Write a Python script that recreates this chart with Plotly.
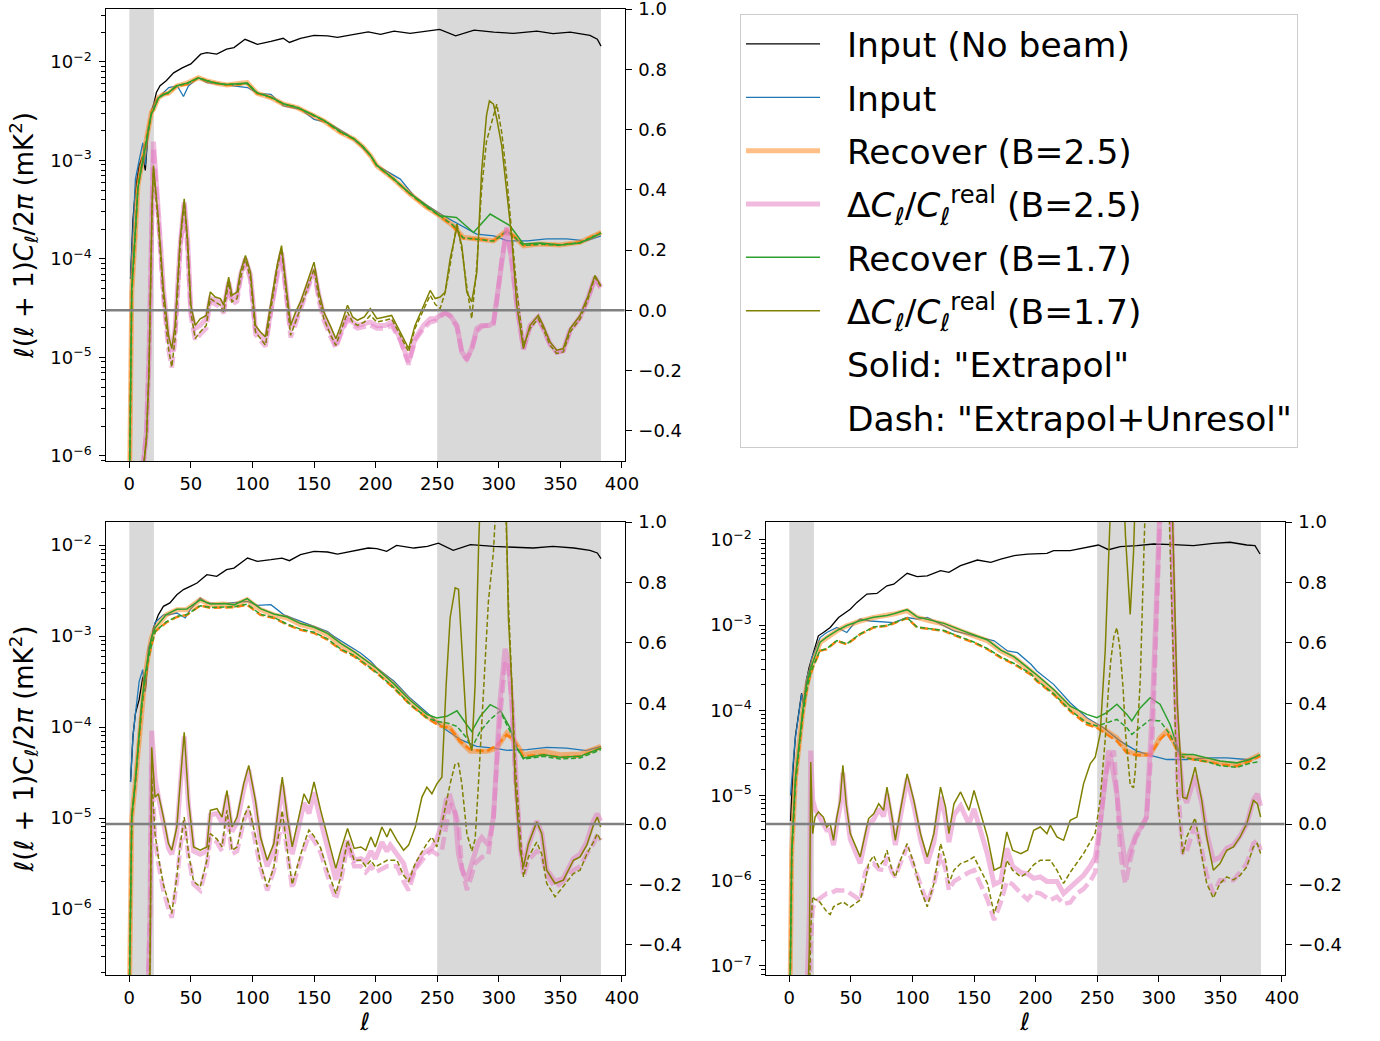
import plotly.graph_objects as go

W, H = 1380, 1041
FONT = "DejaVu Sans"

BLUE = "#1f77b4"
ORANGE = "#ff7f0e"
ORANGE_LIGHT = "rgba(255,127,14,0.5)"
PINK_LIGHT = "rgba(227,119,194,0.5)"
GREEN = "#2ca02c"
OLIVE = "#808000"

x_ticks = [0, 50, 100, 150, 200, 250, 300, 350, 400]
shade_low = [0, 20]
shade_high = [250, 383]

# ======================= Panel 1 (top-left) =======================
l1_black = [1, 3, 5, 8, 11, 13, 15, 18, 20, 22, 25, 30, 36, 43, 50, 58, 63, 71, 79, 85, 94, 104, 115, 125, 130,
            139, 150, 161, 169, 183, 194, 204, 215, 228, 242, 252, 265, 280, 296, 312, 331, 344, 358, 374, 380, 383]
v1_black = [6.31e-5, 2.51e-4, 5.01e-4, 8.91e-4, 1.12e-3, 7.94e-4, 1.78e-3, 3.16e-3, 3.80e-3, 4.90e-3,
            5.75e-3, 6.46e-3, 7.76e-3, 8.71e-3, 9.55e-3, 1.20e-2, 1.245e-2, 1.20e-2, 1.35e-2, 1.40e-2,
            1.70e-2, 1.51e-2, 1.62e-2, 1.74e-2, 1.58e-2, 1.74e-2, 1.86e-2, 1.84e-2, 1.78e-2, 1.91e-2,
            2.02e-2, 1.91e-2, 2.06e-2, 1.95e-2, 2.06e-2, 2.14e-2, 1.84e-2, 2.11e-2, 2.01e-2, 1.95e-2,
            2.06e-2, 1.94e-2, 2.01e-2, 1.86e-2, 1.70e-2, 1.45e-2]

l1_blue = [1, 2, 5, 8, 11, 13, 15.5, 18, 21, 25, 32, 39, 44, 48, 56, 63, 74, 85, 96, 104, 115, 125, 139, 150, 161,
           166, 177, 188, 196, 201, 220, 231, 242, 255, 269, 282, 296, 307, 323, 339, 355, 371, 383]
v1_blue = [6.31e-5, 1.07e-4, 6.46e-4, 1.00e-3, 1.51e-3, 8.91e-4, 2.24e-3, 3.09e-3, 3.98e-3, 4.52e-3,
           5.50e-3, 5.71e-3, 4.46e-3, 5.71e-3, 6.93e-3, 6.18e-3, 5.94e-3, 5.71e-3, 5.50e-3, 4.81e-3,
           4.70e-3, 3.58e-3, 3.31e-3, 2.62e-3, 2.43e-3, 2.24e-3, 1.85e-3, 1.41e-3, 1.10e-3, 8.91e-4,
           6.47e-4, 4.39e-4, 3.48e-4, 2.75e-4, 2.18e-4, 1.79e-4, 1.72e-4, 1.53e-4, 1.53e-4, 1.60e-4,
           1.60e-4, 1.53e-4, 1.72e-4]

l1_rec25 = [0, 2, 5, 7, 10, 13, 15.5, 18, 19.6, 23.6, 27.7, 31.8, 38.6, 46.7, 56.2, 63, 71, 79.3, 90.2, 95.7,
            103.8, 114.7, 125.5, 136.4, 147.3, 158, 171.7, 182.6, 190, 196, 201, 214.6, 228, 241.6, 252, 263,
            271, 282, 295.7, 306.5, 311.9, 320, 333.5, 349.7, 366, 383]
v1_rec25 = [3.16e-7, 4.57e-5, 1.86e-4, 5.50e-4, 8.91e-4, 1.41e-3, 2.09e-3, 3.09e-3, 3.31e-3, 4.35e-3,
            4.70e-3, 4.81e-3, 5.71e-3, 6.08e-3, 6.93e-3, 6.43e-3, 6.08e-3, 5.85e-3, 6.08e-3, 6.18e-3,
            4.81e-3, 4.36e-3, 3.72e-3, 3.44e-3, 2.95e-3, 2.52e-3, 1.92e-3, 1.64e-3, 1.36e-3, 1.11e-3,
            8.83e-4, 6.47e-4, 4.57e-4, 3.34e-4, 2.75e-4, 2.18e-4, 1.66e-4, 1.60e-4, 1.53e-4, 1.94e-4,
            1.72e-4, 1.36e-4, 1.42e-4, 1.39e-4, 1.48e-4, 1.86e-4]
v1_rec25d = [3.16e-7, 4.57e-5, 1.86e-4, 5.50e-4, 8.91e-4, 1.41e-3, 2.09e-3, 3.09e-3, 3.31e-3, 4.35e-3,
             4.70e-3, 4.81e-3, 5.71e-3, 5.95e-3, 6.93e-3, 6.43e-3, 6.08e-3, 5.85e-3, 5.95e-3, 6.05e-3,
             4.81e-3, 4.36e-3, 3.72e-3, 3.44e-3, 2.95e-3, 2.52e-3, 1.92e-3, 1.64e-3, 1.36e-3, 1.11e-3,
             8.83e-4, 6.47e-4, 4.57e-4, 3.34e-4, 2.75e-4, 2.14e-4, 1.62e-4, 1.60e-4, 1.53e-4, 1.90e-4,
             1.72e-4, 1.38e-4, 1.42e-4, 1.39e-4, 1.48e-4, 1.86e-4]
v1_rec17d = [3.16e-7, 4.7e-5, 1.9e-4, 5.4e-4, 8.8e-4, 1.40e-3, 2.07e-3, 3.05e-3, 3.28e-3, 4.3e-3,
             4.68e-3, 4.85e-3, 5.73e-3, 6.0e-3, 6.9e-3, 6.45e-3, 6.1e-3, 5.88e-3, 5.98e-3, 6.08e-3,
             4.85e-3, 4.4e-3, 3.75e-3, 3.46e-3, 2.97e-3, 2.54e-3, 1.94e-3, 1.65e-3, 1.37e-3, 1.12e-3,
             8.9e-4, 6.5e-4, 4.6e-4, 3.36e-4, 2.76e-4, 2.2e-4, 1.64e-4, 1.58e-4, 1.52e-4, 1.92e-4,
             1.70e-4, 1.37e-4, 1.41e-4, 1.38e-4, 1.47e-4, 1.84e-4]

l1_rec17 = [0, 2, 5, 7, 10, 13, 15.5, 18, 19.6, 23.6, 27.7, 31.8, 38.6, 46.7, 56.2, 63, 71, 79.3, 90.2, 95.7,
            103.8, 114.7, 125.5, 136.4, 147.3, 158, 171.7, 182.6, 190, 196, 201, 214.6, 228, 241.6, 252,
            265.6, 279.5, 293, 309, 320, 333.5, 349.7, 366, 383]
v1_rec17 = [3.16e-7, 5.0e-5, 2.0e-4, 5.2e-4, 8.5e-4, 1.38e-3, 2.05e-3, 3.0e-3, 3.25e-3, 4.3e-3,
            4.65e-3, 4.9e-3, 5.75e-3, 6.1e-3, 6.9e-3, 6.45e-3, 6.1e-3, 5.9e-3, 6.05e-3, 6.1e-3,
            4.85e-3, 4.4e-3, 3.75e-3, 3.45e-3, 2.98e-3, 2.55e-3, 1.95e-3, 1.66e-3, 1.37e-3, 1.12e-3,
            8.9e-4, 6.5e-4, 4.6e-4, 3.4e-4, 2.75e-4,
            2.64e-4, 1.86e-4, 2.86e-4, 2.18e-4, 1.42e-4, 1.45e-4, 1.39e-4, 1.45e-4, 1.82e-4]

l1_dc = [0, 10, 14, 16, 17, 18.5, 19.6, 23.6, 27.7, 31.8, 34.5, 37.2, 41.3, 44.6, 47.3, 50, 53.5, 57.6, 62.5,
         65.8, 69.8, 74, 76.6, 80.7, 83.4, 87.5, 90.2, 94.3, 98.4, 102.4, 106.5, 110.6, 114.7, 120, 123.6,
         126.9, 131, 135, 139, 144.6, 150, 154, 158, 163.6, 167.7, 171.7, 177.2, 181.3, 185.3, 190.8, 195.7,
         201, 207.8, 213, 220, 226.8, 232, 239, 244.3, 248.4, 252.4, 256.5, 260.5, 266, 270, 274, 278, 282.2,
         286, 290, 292.4, 295.7, 298.4, 302.4, 306.5, 310.6, 314.6, 320, 325.4, 332, 336, 341.6, 347, 352.4,
         357.9, 366, 372.7, 378, 382.7]
v1_d17 = [-1.0, -0.6, -0.42, -0.2, 0.05, 0.35, 0.48, 0.304, 0.072, -0.083,
          -0.127, -0.05, 0.237, 0.37, 0.237, 0.017, -0.05, -0.028, -0.017, 0.061,
          0.044, 0.039, 0.017, 0.11, 0.05, 0.061, 0.127, 0.182, 0.127, -0.05,
          -0.072, -0.088, 0.017, 0.149, 0.215, 0.094, -0.05, -0.006, 0.028, 0.094,
          0.16, 0.061, -0.006, -0.055, -0.094, -0.05, 0.017, -0.022, -0.033, -0.022,
          0.006, -0.028, -0.022, -0.017, -0.072, -0.127, -0.05, 0.017, 0.066, 0.039,
          0.044, 0.061, 0.171, 0.276, 0.215, 0.061, 0.028, 0.127, 0.458, 0.646,
          0.695, 0.684, 0.635, 0.546, 0.392, 0.237, 0.017, -0.127, -0.05, -0.017,
          -0.05, -0.105, -0.132, -0.127, -0.061, -0.017, 0.05, 0.116, 0.083]
v1_d17d = [-1.0, -0.6, -0.42, -0.2, 0.05, 0.33, 0.47, 0.282, 0.039, -0.127,
           -0.188, -0.094, 0.215, 0.359, 0.215, -0.006, -0.094, -0.072, -0.05, 0.039,
           0.028, 0.017, -0.006, 0.094, 0.028, 0.039, 0.105, 0.171, 0.105, -0.072,
           -0.094, -0.116, -0.006, 0.138, 0.204, 0.072, -0.083, -0.039, 0.006, 0.072,
           0.138, 0.039, -0.028, -0.083, -0.116, -0.072, -0.006, -0.039, -0.05, -0.039,
           -0.017, -0.039, -0.033, -0.028, -0.083, -0.138, -0.06, 0.006, 0.05, 0.02,
           0.006, 0.06, 0.15, 0.29, 0.2, 0.08, -0.028, 0.15, 0.4, 0.56,
           0.6, 0.646, 0.684, 0.59, 0.44, 0.25, 0.07, -0.116, -0.06, -0.028,
           -0.06, -0.116, -0.143, -0.138, -0.072, -0.028, 0.04, 0.11, 0.08]
v1_d25 = [-1.0, -0.55, -0.4, -0.15, 0.1, 0.45, 0.56, 0.326, 0.072, -0.094,
          -0.138, -0.06, 0.215, 0.359, 0.237, -0.006, -0.06, -0.05, -0.028, 0.039,
          0.033, 0.028, 0.006, 0.094, 0.039, 0.05, 0.116, 0.171, 0.116, -0.06,
          -0.083, -0.105, -0.006, 0.127, 0.193, 0.083, -0.06, -0.028, 0.017, 0.072,
          0.138, 0.05, -0.017, -0.072, -0.116, -0.072, -0.017, -0.039, -0.05, -0.044,
          -0.039, -0.05, -0.05, -0.039, -0.094, -0.171, -0.094, -0.05, -0.028, -0.028,
          -0.017, -0.006, -0.017, -0.05, -0.138, -0.16, -0.127, -0.06, -0.05, -0.05,
          -0.05, -0.04, 0.039, 0.18, 0.276, 0.16, 0.02, -0.127, -0.05, -0.022,
          -0.055, -0.11, -0.138, -0.132, -0.066, -0.022, 0.044, 0.11, 0.078]
v1_d25d = [-1.0, -0.55, -0.4, -0.15, 0.1, 0.42, 0.54, 0.3, 0.04, -0.13,
           -0.19, -0.1, 0.2, 0.35, 0.2, -0.02, -0.1, -0.08, -0.06, 0.03,
           0.02, 0.01, -0.01, 0.085, 0.02, 0.03, 0.1, 0.16, 0.1, -0.08,
           -0.1, -0.12, -0.015, 0.13, 0.19, 0.065, -0.09, -0.045, 0.0, 0.065,
           0.13, 0.03, -0.035, -0.09, -0.125, -0.08, -0.03, -0.05, -0.06, -0.055,
           -0.05, -0.06, -0.06, -0.05, -0.1, -0.18, -0.1, -0.06, -0.04, -0.035,
           -0.02, -0.01, -0.02, -0.055, -0.14, -0.165, -0.13, -0.07, -0.055, -0.05,
           -0.05, -0.045, 0.03, 0.17, 0.27, 0.16, 0.02, -0.13, -0.055, -0.03,
           -0.06, -0.115, -0.14, -0.135, -0.07, -0.025, 0.04, 0.105, 0.075]

# ======================= Panel 2 (bottom-left) =======================
l2_black = [1, 3, 5, 8, 11, 13, 15.5, 18, 19.6, 23.6, 27.7, 33, 38.6, 44, 49.5, 55, 63, 71, 79, 85, 96, 104,
            115, 124, 130, 139, 150, 161, 169, 183, 194, 201, 209, 217, 231, 242, 251, 263, 277, 296, 312, 328,
            344, 361, 374, 380, 383]
v2_black = [2.51e-5, 7.94e-5, 1.41e-4, 2.00e-4, 3.55e-4, 2.51e-4, 6.31e-4, 8.91e-4, 1.22e-3, 1.71e-3,
            2.12e-3, 2.31e-3, 2.84e-3, 3.24e-3, 3.52e-3, 3.82e-3, 4.72e-3, 4.53e-3, 5.36e-3, 5.58e-3,
            7.19e-3, 6.62e-3, 6.90e-3, 7.19e-3, 6.73e-3, 7.83e-3, 8.51e-3, 8.38e-3, 7.96e-3, 8.67e-3,
            9.27e-3, 9.12e-3, 8.51e-3, 9.91e-3, 9.27e-3, 9.66e-3, 1.05e-2, 8.73e-3, 1.01e-2, 9.66e-3,
            9.42e-3, 9.27e-3, 9.66e-3, 9.27e-3, 8.73e-3, 8.17e-3, 7.08e-3]

l2_blue = [1, 3, 4.6, 8, 10.9, 12.8, 15.5, 18.2, 21, 27.7, 31.8, 38.6, 45.4, 49.5, 57.6, 63, 74, 85, 96, 104,
           115, 125.5, 139, 150, 161, 166, 177, 188, 196, 201, 215, 228, 242, 255, 269, 282, 296, 307, 323, 339,
           355, 371, 383]
v2_blue = [2.51e-5, 7.94e-5, 1.26e-4, 3.16e-4, 4.27e-4, 2.45e-4, 7.41e-4, 9.55e-4, 1.41e-3, 1.71e-3,
           1.71e-3, 1.79e-3, 1.58e-3, 1.95e-3, 2.62e-3, 2.31e-3, 2.25e-3, 2.31e-3, 2.40e-3, 2.17e-3,
           2.21e-3, 1.71e-3, 1.45e-3, 1.28e-3, 1.12e-3, 9.91e-4, 8.04e-4, 6.46e-4, 5.27e-4, 4.45e-4,
           3.18e-4, 2.08e-4, 1.43e-4, 9.75e-5, 7.26e-5, 6.14e-5, 5.87e-5, 5.55e-5, 5.64e-5, 5.98e-5,
           5.87e-5, 5.50e-5, 6.14e-5]

l2_rec25 = [0, 2, 5, 7, 10, 13, 15.5, 18, 21, 30, 38.6, 46.7, 57.6, 65.8, 76.6, 85, 95.7, 106.5, 117.4, 128.3,
            139, 150, 160.9, 171.7, 182.6, 196, 201, 214.6, 228, 241.6, 252.4, 260.5, 268.6, 276.8, 290.3, 298.4,
            306.5, 311.9, 320, 336.3, 349.8, 366, 383]
v2_rec25 = [1e-7, 1.00e-5, 2.51e-5, 5.37e-5, 1.78e-4, 3.80e-4, 6.31e-4, 9.55e-4, 1.22e-3, 1.71e-3,
            1.95e-3, 1.95e-3, 2.51e-3, 2.21e-3, 2.25e-3, 2.17e-3, 2.51e-3, 1.95e-3, 1.71e-3, 1.58e-3,
            1.33e-3, 1.22e-3, 1.04e-3, 8.04e-4, 6.50e-4, 4.84e-4, 4.27e-4, 2.92e-4, 1.91e-4, 1.31e-4,
            1.08e-4, 9.75e-5, 6.95e-5, 5.41e-5, 5.41e-5, 5.87e-5, 8.59e-5, 7.26e-5, 4.97e-5, 5.41e-5,
            4.97e-5, 5.05e-5, 6.14e-5]
v2_rec25d = [1e-7, 1.0e-5, 2.51e-5, 5.01e-5, 1.58e-4, 3.55e-4, 5.62e-4, 7.94e-4, 1.12e-3, 1.41e-3,
             1.62e-3, 1.70e-3, 2.17e-3, 2.04e-3, 2.04e-3, 2.07e-3, 2.21e-3, 1.71e-3, 1.58e-3, 1.33e-3,
             1.17e-3, 1.08e-3, 9.12e-4, 7.08e-4, 5.98e-4, 4.45e-4, 3.92e-4, 2.69e-4, 1.76e-4, 1.26e-4,
             1.02e-4, 9.75e-5, 6.95e-5, 5.64e-5, 5.41e-5, 6.31e-5, 8.24e-5, 7.26e-5, 4.76e-5, 4.97e-5,
             4.65e-5, 4.76e-5, 5.89e-5]

l2_rec17 = [0, 2, 5, 7, 10, 13, 15.5, 18, 21, 30, 38.6, 46.7, 57.6, 65.8, 76.6, 85, 95.7, 106.5, 117.4, 128.3,
            139, 150, 160.9, 171.7, 182.6, 196, 201, 214.6, 228, 241.6,
            249.7, 257.8, 266, 274, 278, 284.9, 293, 301, 309.2, 314.6, 320, 336.3, 349.8, 366, 383]
v2_rec17 = [1e-7, 1.05e-5, 2.6e-5, 5.5e-5, 1.8e-4, 3.9e-4, 6.4e-4, 9.6e-4, 1.23e-3, 1.72e-3,
            1.97e-3, 1.98e-3, 2.5e-3, 2.25e-3, 2.28e-3, 2.2e-3, 2.58e-3, 2.0e-3, 1.75e-3, 1.62e-3,
            1.37e-3, 1.25e-3, 1.07e-3, 8.3e-4, 6.7e-4, 5.0e-4, 4.4e-4, 3.0e-4, 1.97e-4, 1.38e-4,
            1.26e-4, 1.31e-4, 1.51e-4, 1.06e-4, 8.95e-5, 1.31e-4, 1.76e-4, 1.55e-4, 9.75e-5, 5.89e-5,
            4.56e-5, 4.97e-5, 4.65e-5, 4.76e-5, 5.89e-5]
v2_rec17d = [1e-7, 1.0e-5, 2.51e-5, 5.01e-5, 1.58e-4, 3.55e-4, 5.62e-4, 7.94e-4, 1.12e-3, 1.43e-3,
             1.64e-3, 1.72e-3, 2.15e-3, 2.06e-3, 2.06e-3, 2.09e-3, 2.24e-3, 1.73e-3, 1.60e-3, 1.35e-3,
             1.19e-3, 1.10e-3, 9.3e-4, 7.2e-4, 6.1e-4, 4.5e-4, 3.95e-4, 2.72e-4, 1.78e-4, 1.27e-4,
             1.15e-4, 1.11e-4, 1.02e-4, 7.57e-5, 5.87e-5, 8.95e-5, 1.21e-4, 1.49e-4, 8.95e-5, 5.89e-5,
             4.45e-5, 4.76e-5, 4.45e-5, 4.57e-5, 5.64e-5]

l2_dc = [0, 10, 15, 16.8, 18.2, 20.9, 23.6, 27.7, 31.8, 34.5, 38.6, 41.3, 44.6, 48.1, 52.2, 57.6, 63, 65.8, 71.2,
         75.3, 79.3, 83.4, 87.5, 92.9, 97, 102.4, 106.5, 112, 117.4, 124.2, 128.3, 132.3, 137.8, 141.8, 145.9, 150,
         155.4, 160.9, 167.7, 171.7, 177.2, 182.6, 188, 192, 196.2, 199.7, 205.1, 209.2, 211.9, 217.3, 222.7,
         226.8, 232.2, 237.6, 241.6, 245.7, 249.7, 253.8, 257.3, 260.5, 264.6, 267.3, 270, 274.1, 278.1, 280.8,
         283.5, 286.2, 291.6, 295.7, 298.4, 301, 305.1, 307.8, 310.6, 313.3, 317.3, 320, 324.1, 330.8, 334.9,
         338.9, 345.7, 352.4, 360.6, 366, 371.4, 376.8, 380, 382.7]
v2_d17 = [-1.5, -1.0, -0.7, -0.49, 0.254, 0.089, 0.1, 0.023, -0.065, -0.087,
          -0.01, 0.133, 0.304, 0.078, -0.076, -0.087, -0.076, 0.045, 0.051, 0.023,
          0.111, -0.01, 0.023, 0.133, 0.194, 0.078, -0.043, -0.12, -0.065, 0.155,
          0.023, -0.076, 0.023, 0.1, 0.067, 0.139, 0.045, -0.043, -0.147, -0.087,
          -0.015, -0.081, -0.076, -0.087, -0.043, -0.076, -0.01, -0.043, -0.015, -0.054,
          -0.087, -0.07, -0.01, 0.089, 0.122, 0.1, 0.133, 0.155, 0.463, 0.683,
          0.782, 0.777, 0.573, 0.298, 0.243, 0.463, 0.903, 1.23, 1.5, 1.6,
          1.6, 1.5, 1.23, 0.683, 0.463, 0.133, -0.087, -0.142, -0.065, 0.007,
          -0.032, -0.153, -0.197, -0.186, -0.12, -0.109, -0.07, -0.004, 0.023, -0.01]
v2_d17d = [-1.5, -1.0, -0.7, -0.45, 0.155, -0.032, -0.11, -0.2, -0.26, -0.296,
           -0.175, -0.07, 0.023, -0.098, -0.19, -0.208, -0.12, -0.032, -0.05, -0.076,
           0.045, -0.087, -0.076, 0.023, 0.06, -0.04, -0.131, -0.208, -0.142, 0.045,
           -0.087, -0.2, -0.12, -0.065, -0.02, -0.04, -0.08, -0.153, -0.23, -0.175,
           -0.054, -0.12, -0.12, -0.14, -0.12, -0.142, -0.13, -0.12, -0.12, -0.12,
           -0.17, -0.19, -0.13, -0.09, -0.065, -0.043, -0.076, 0.0, 0.07, 0.133,
           0.2, 0.2, 0.133, -0.032, -0.09, -0.05, 0.133, 0.35, 0.738, 0.903,
           1.12, 1.2, 1.12, 0.738, 0.45, 0.2, -0.03, -0.175, -0.109, -0.06,
           -0.1, -0.197, -0.241, -0.208, -0.164, -0.153, -0.1, -0.06, -0.032, -0.054]
v2_d25 = [-1.5, -1.0, -0.6, -0.3, 0.309, 0.15, 0.09, 0.01, -0.08, -0.1,
          -0.03, 0.12, 0.29, 0.06, -0.09, -0.1, -0.09, 0.03, 0.035, 0.005,
          0.095, -0.025, 0.005, 0.115, 0.18, 0.06, -0.06, -0.14, -0.085, 0.13,
          0.0, -0.1, -0.005, 0.07, 0.035, 0.105, 0.01, -0.08, -0.185, -0.125,
          -0.055, -0.12, -0.115, -0.125, -0.09, -0.115, -0.06, -0.09, -0.07, -0.1,
          -0.13, -0.19, -0.14, -0.1, -0.09, -0.08, -0.05, 0.0, 0.08, 0.09,
          0.03, -0.1, -0.15, -0.186, -0.13, -0.087, -0.06, -0.045, -0.07, 0.023,
          0.2, 0.408, 0.58, 0.54, 0.4, 0.2, -0.08, -0.142, -0.07, 0.01,
          -0.03, -0.15, -0.19, -0.18, -0.115, -0.1, -0.06, 0.01, 0.034, 0.01]
v2_d25d = [-1.5, -1.0, -0.6, -0.3, 0.2, -0.05, -0.13, -0.22, -0.28, -0.31,
           -0.19, -0.08, 0.01, -0.11, -0.2, -0.22, -0.135, -0.045, -0.06, -0.09,
           0.03, -0.1, -0.09, 0.01, 0.05, -0.055, -0.145, -0.22, -0.155, 0.03,
           -0.1, -0.215, -0.135, -0.08, -0.035, -0.055, -0.095, -0.17, -0.25, -0.19,
           -0.07, -0.14, -0.14, -0.16, -0.14, -0.16, -0.15, -0.14, -0.14, -0.14,
           -0.19, -0.22, -0.15, -0.12, -0.1, -0.09, -0.1, -0.087, 0.0, 0.067,
           0.04, 0.0, -0.142, -0.219, -0.17, -0.13, -0.12, -0.11, -0.1, 0.023,
           0.2, 0.35, 0.53, 0.54, 0.408, 0.15, -0.05, -0.175, -0.12, -0.09,
           -0.1, -0.17, -0.21, -0.19, -0.153, -0.14, -0.1, -0.065, -0.035, -0.054]

# ======================= Panel 3 (bottom-right) =======================
l3_black = [1, 3, 5, 8, 10, 12, 14, 16, 18, 19.6, 23.6, 27.7, 33.2, 40, 44, 49.5, 54.9, 63, 71.2, 79.3, 84.8,
            95.7, 103.8, 112, 122.8, 129.6, 139, 152.7, 163.6, 171.7, 182.6, 193.5, 209.2, 214.6, 228.1, 241.6,
            251, 259.2, 268.7, 282.2, 295.7, 311.9, 328.1, 344.3, 357.9, 371.4, 378.1, 382.2]
v3_black = [5.01e-6, 2.00e-5, 5.01e-5, 1.00e-4, 1.58e-4, 1.12e-4, 2.24e-4, 3.16e-4, 3.98e-4, 4.99e-4,
            7.50e-4, 8.20e-4, 9.40e-4, 1.23e-3, 1.35e-3, 1.54e-3, 1.85e-3, 2.32e-3, 2.36e-3, 2.90e-3,
            3.03e-3, 4.06e-3, 3.71e-3, 3.80e-3, 4.36e-3, 4.17e-3, 4.99e-3, 5.82e-3, 5.46e-3, 5.97e-3,
            6.55e-3, 6.84e-3, 6.97e-3, 7.50e-3, 7.50e-3, 8.20e-3, 8.73e-3, 7.69e-3, 8.36e-3, 8.57e-3,
            8.97e-3, 8.81e-3, 8.57e-3, 9.14e-3, 9.40e-3, 8.73e-3, 8.57e-3, 6.84e-3]

l3_blue = [1, 4.6, 10, 11.4, 14.1, 16.8, 18.2, 19.6, 25, 30.4, 38.6, 46.7, 52.2, 57.6, 65.8, 76.6, 84.8, 95.7,
           103.8, 112, 122.8, 133.7, 144.6, 155.4, 166.3, 177.2, 185.3, 196.2, 201, 214.6, 228.1, 241.6, 255.1,
           268.7, 282.2, 295.7, 306.5, 322.7, 338.9, 355.2, 371.4, 382.2]
v3_blue = [1.00e-5, 4.37e-5, 1.55e-4, 1.17e-4, 2.42e-4, 3.16e-4, 4.17e-4, 4.56e-4, 7.16e-4, 8.20e-4,
           9.40e-4, 8.20e-4, 1.03e-3, 1.18e-3, 1.12e-3, 1.10e-3, 1.07e-3, 1.23e-3, 1.18e-3, 1.23e-3,
           1.03e-3, 8.57e-4, 7.83e-4, 7.16e-4, 6.55e-4, 4.99e-4, 4.76e-4, 3.48e-4, 2.90e-4, 2.02e-4,
           1.23e-4, 8.20e-5, 6.25e-5, 4.36e-5, 3.33e-5, 2.90e-5, 2.65e-5, 2.65e-5, 2.77e-5, 2.77e-5,
           2.65e-5, 2.90e-5]

l3_rec25 = [0, 2, 5, 8, 11, 14, 17, 19.6, 25, 30.4, 38.6, 46.7, 57.6, 68.5, 79.3, 84.8, 95.7, 103.8, 114.7,
            125.5, 139, 149.7, 160.9, 171.7, 182.6, 196.2, 201, 214.6, 228.1, 241.6, 249.7, 257.8, 266, 274.1,
            282.2, 293, 301, 306.5, 311.9, 317.3, 328.1, 338.9, 349.8, 363.3, 374.1, 382.2]
v3_rec25 = [1e-8, 2.24e-6, 1.58e-5, 4.17e-5, 1.00e-4, 1.91e-4, 2.95e-4, 3.80e-4, 6.25e-4, 7.16e-4,
            8.57e-4, 9.82e-4, 1.12e-3, 1.23e-3, 1.29e-3, 1.35e-3, 1.48e-3, 1.23e-3, 1.12e-3, 1.03e-3,
            8.57e-4, 7.50e-4, 6.55e-4, 4.99e-4, 4.17e-4, 2.88e-4, 2.51e-4, 1.69e-4, 1.07e-4, 7.50e-5,
            6.55e-5, 5.71e-5, 4.76e-5, 3.33e-5, 3.03e-5, 3.03e-5, 4.76e-5, 5.71e-5, 4.36e-5, 3.03e-5,
            2.77e-5, 2.65e-5, 2.42e-5, 2.32e-5, 2.65e-5, 3.03e-5]
v3_rec25d = [1e-8, 2.0e-6, 1.41e-5, 3.80e-5, 8.91e-5, 1.70e-4, 2.63e-4, 3.33e-4, 4.99e-4, 5.22e-4,
             6.55e-4, 5.97e-4, 7.83e-4, 9.40e-4, 9.82e-4, 1.05e-3, 1.21e-3, 9.40e-4, 8.97e-4, 8.57e-4,
             7.16e-4, 6.25e-4, 5.22e-4, 4.17e-4, 3.48e-4, 2.63e-4, 2.21e-4, 1.54e-4, 9.82e-5, 6.84e-5,
             6.25e-5, 5.22e-5, 4.36e-5, 3.18e-5, 2.99e-5, 2.99e-5, 4.56e-5, 5.46e-5, 4.17e-5, 2.90e-5,
             2.65e-5, 2.51e-5, 2.32e-5, 2.21e-5, 2.54e-5, 2.90e-5]

l3_rec17 = [0, 2, 5, 8, 11, 14, 17, 19.6, 25, 30.4, 38.6, 46.7, 57.6, 68.5, 79.3, 84.8, 95.7, 103.8, 114.7,
            125.5, 139, 149.7, 160.9, 171.7, 182.6, 196.2, 201, 214.6, 228.1,
            241.6, 249.7, 257.8, 266, 274.1, 278.1, 284.9, 293, 301, 309.2, 317.3, 328.1, 338.9, 349.8, 363.3,
            374.1, 382.2]
v3_rec17 = [1e-8, 2.3e-6, 1.62e-5, 4.3e-5, 1.02e-4, 1.95e-4, 3.0e-4, 3.85e-4, 6.3e-4, 7.25e-4,
            8.65e-4, 9.9e-4, 1.13e-3, 1.24e-3, 1.30e-3, 1.36e-3, 1.52e-3, 1.25e-3, 1.14e-3, 1.05e-3,
            8.8e-4, 7.7e-4, 6.7e-4, 5.1e-4, 4.25e-4, 2.95e-4, 2.6e-4, 1.76e-4, 1.12e-4,
            8.97e-5, 8.20e-5, 9.40e-5, 1.18e-4, 8.97e-5, 7.50e-5, 1.07e-4, 1.41e-4, 1.18e-4, 6.84e-5,
            3.03e-5, 3.03e-5, 2.77e-5, 2.54e-5, 2.42e-5, 2.65e-5, 3.03e-5]
v3_rec17d = [1e-8, 2.0e-6, 1.41e-5, 3.80e-5, 8.91e-5, 1.70e-4, 2.63e-4, 3.33e-4, 5.05e-4, 5.3e-4,
             6.6e-4, 6.05e-4, 7.9e-4, 9.5e-4, 9.9e-4, 1.06e-3, 1.22e-3, 9.5e-4, 9.05e-4, 8.65e-4,
             7.25e-4, 6.35e-4, 5.3e-4, 4.25e-4, 3.55e-4, 2.68e-4, 2.25e-4, 1.57e-4, 1.0e-4,
             7.16e-5, 6.55e-5, 7.16e-5, 7.83e-5, 6.25e-5, 5.22e-5, 6.31e-5, 7.76e-5, 7.50e-5, 5.22e-5,
             2.90e-5, 2.65e-5, 2.51e-5, 2.24e-5, 2.14e-5, 2.40e-5, 2.51e-5]

l3_dc = [0, 10, 14, 16.3, 17.4, 19, 20.9, 23.6, 27.7, 30.4, 33.2, 35.9, 38.6, 41.3, 43.5, 46.2, 49.5, 57.6, 61.7,
         64.4, 68.5, 72.6, 76.6, 79.3, 83.4, 86.1, 90.2, 95.7, 101.1, 106.5, 112, 117.4, 122.8, 126.9, 129.6,
         133.7, 139.1, 145.9, 150, 155.4, 160.9, 166.3, 171.7, 176.6, 181.3, 188, 193.5, 198.4, 203.8, 209.2,
         211.9, 217.3, 222.7, 228.1, 233.5, 238.9, 244.3, 248.4, 252.4, 256.5, 259.2, 261, 263.5, 266, 268.5,
         271, 273, 276.8, 279.5, 281, 285, 290, 295, 300, 303, 306, 308, 310, 311.9, 315, 319.5, 322.7, 329.5,
         334.9, 338.9, 344.3, 349.7, 355.2, 360.6, 366, 371.4, 376.8, 380, 382.7]
v3_d17 = [-1.5, -1.0, -0.7, -0.417, 0.205, -0.032, 0.023, 0.04, 0.023, -0.01,
          0.001, -0.054, 0.023, 0.078, 0.194, 0.067, -0.032, -0.109, -0.032, 0.018,
          0.034, 0.067, 0.045, 0.122, 0.023, -0.054, 0.045, 0.166, 0.078, -0.032,
          -0.109, -0.032, 0.122, 0.056, -0.032, 0.067, 0.106, 0.045, 0.111, 0.034,
          -0.043, -0.153, -0.142, -0.026, -0.087, -0.098, -0.087, -0.021, -0.01, -0.032,
          -0.004, -0.043, -0.054, 0.012, 0.023, 0.133, 0.199, 0.221, 0.298, 0.573,
          0.903, 1.2, 1.35, 1.4, 1.3, 1.15, 0.95, 0.694, 0.9, 1.1,
          1.4, 1.6, 1.7, 1.8, 1.8, 1.7, 1.5, 1.2, 0.9, 0.4,
          0.089, 0.084, 0.188, 0.078, -0.043, -0.153, -0.131, -0.087, -0.076, -0.043,
          0.001, 0.078, 0.067, 0.023]
v3_d17d = [-1.5, -1.0, -0.8, -0.6, -0.35, -0.24, -0.25, -0.252, -0.275, -0.29,
           -0.3, -0.274, -0.268, -0.263, -0.258, -0.265, -0.275, -0.252, -0.19, -0.13,
           -0.105, -0.142, -0.12, -0.087, -0.153, -0.175, -0.12, -0.065, -0.13, -0.215,
           -0.274, -0.197, -0.065, -0.12, -0.197, -0.153, -0.131, -0.12, -0.109, -0.153,
           -0.197, -0.296, -0.23, -0.12, -0.153, -0.175, -0.16, -0.135, -0.12, -0.12,
           -0.12, -0.153, -0.197, -0.16, -0.13, -0.098, -0.06, -0.03, 0.08, 0.28,
           0.45, 0.54, 0.62, 0.65, 0.58, 0.45, 0.3, 0.13, 0.12, 0.18,
           0.48, 1.2, 1.5, 1.6, 1.5, 1.3, 1.1, 0.8, 0.55, 0.1,
           -0.1, -0.043, 0.02, -0.11, -0.197, -0.245, -0.197, -0.175, -0.185, -0.17,
           -0.142, -0.076, -0.065, -0.098]
v3_d25 = [-1.5, -1.0, -0.6, -0.3, 0.243, 0.08, 0.05, 0.03, 0.0, -0.02,
          -0.02, -0.07, 0.0, 0.06, 0.17, 0.05, -0.05, -0.13, -0.05, 0.0,
          0.015, 0.05, 0.025, 0.1, 0.005, -0.07, 0.025, 0.15, 0.06, -0.05,
          -0.13, -0.06, 0.09, 0.02, -0.06, 0.03, 0.06, 0.0, 0.05, -0.02,
          -0.1, -0.2, -0.19, -0.08, -0.14, -0.16, -0.165, -0.18, -0.175, -0.19,
          -0.19, -0.19, -0.23, -0.21, -0.19, -0.17, -0.14, -0.11, 0.0, 0.15,
          0.243, 0.22, 0.16, 0.1, 0.0, -0.1, -0.142, -0.09, -0.06, -0.04,
          -0.015, 0.023, 0.4, 0.9, 1.3, 1.6, 1.5, 1.1, 0.683, 0.3,
          0.1, 0.07, 0.16, 0.07, -0.03, -0.12, -0.11, -0.08, -0.07, -0.04,
          0.0, 0.08, 0.1, 0.06]
v3_d25d = [-1.5, -1.0, -0.8, -0.6, -0.4, -0.28, -0.26, -0.25, -0.24, -0.23,
           -0.23, -0.225, -0.219, -0.22, -0.22, -0.22, -0.23, -0.252, -0.16, -0.14,
           -0.131, -0.15, -0.153, -0.109, -0.16, -0.175, -0.13, -0.076, -0.14, -0.2,
           -0.263, -0.2, -0.1, -0.15, -0.219, -0.19, -0.175, -0.16, -0.153, -0.197,
           -0.25, -0.318, -0.26, -0.19, -0.2, -0.23, -0.25, -0.225, -0.23, -0.245,
           -0.252, -0.241, -0.265, -0.26, -0.23, -0.215, -0.19, -0.16, 0.0, 0.15,
           0.2, 0.22, 0.243, 0.1, -0.08, -0.16, -0.197, -0.12, -0.07, -0.05,
           -0.02, 0.02, 0.3, 0.95, 1.4, 1.6, 1.5, 1.1, 0.7, 0.15,
           -0.1, -0.09, 0.0, -0.087, -0.17, -0.23, -0.186, -0.185, -0.186, -0.16,
           -0.131, -0.065, -0.054, -0.087]

# ======================= Figure =======================
PAD = "\u00a0\u00a0"
NAMES = {
    "black": PAD + "Input (No beam)",
    "blue": PAD + "Input",
    "rec25": PAD + "Recover (B=2.5)",
    "d25": PAD + "Δ<i>C</i><sub><i>ℓ</i></sub>/<i>C</i><sub><i>ℓ</i></sub><sup>real</sup> (B=2.5)",
    "rec17": PAD + "Recover (B=1.7)",
    "d17": PAD + "Δ<i>C</i><sub><i>ℓ</i></sub>/<i>C</i><sub><i>ℓ</i></sub><sup>real</sup> (B=1.7)",
}
RANK = {"black": 1, "blue": 2, "rec25": 3, "d25": 4, "rec17": 5, "d17": 6}

fig = go.Figure()


def add_line(x, y, xa, ya, line, key=None, legend=False):
    fig.add_trace(go.Scatter(
        x=x, y=y, xaxis=xa, yaxis=ya, mode="lines", line=line,
        name=NAMES.get(key, ""), legendgroup=key, legendrank=RANK.get(key, 100),
        showlegend=legend, hoverinfo="skip"))


def add_panel(xa, ya, yb, first, lb, vb, lbl, vbl, lr25, vr25, vr25d, lr17, vr17, lr17d, vr17d,
              ldc, vd25, vd25d, vd17, vd17d):
    add_line(lb, vb, xa, ya, dict(color="black", width=1.3), "black", first)
    add_line(lbl, vbl, xa, ya, dict(color=BLUE, width=1.3), "blue", first)
    add_line(lr25, vr25, xa, ya, dict(color=ORANGE_LIGHT, width=5), "rec25", first)
    add_line(lr25, vr25d, xa, ya, dict(color=ORANGE, width=2.5, dash="8px,3.5px"), "rec25")
    add_line(lr17, vr17, xa, ya, dict(color=GREEN, width=1.5), "rec17", first)
    add_line(lr17d, vr17d, xa, ya, dict(color=GREEN, width=1.5, dash="5px,2.5px"), "rec17")
    add_line(ldc, vd25, xa, yb, dict(color=PINK_LIGHT, width=5), "d25", first)
    add_line(ldc, vd25d, xa, yb, dict(color=PINK_LIGHT, width=4.5, dash="13px,5px"), "d25")
    add_line(ldc, vd17, xa, yb, dict(color=OLIVE, width=1.5), "d17", first)
    add_line(ldc, vd17d, xa, yb, dict(color=OLIVE, width=1.5, dash="5px,2.5px"), "d17")


add_panel("x", "y", "y2", True, l1_black, v1_black, l1_blue, v1_blue, l1_rec25, v1_rec25, v1_rec25d,
          l1_rec17, v1_rec17, l1_rec25, v1_rec17d, l1_dc, v1_d25, v1_d25d, v1_d17, v1_d17d)
add_panel("x2", "y3", "y4", False, l2_black, v2_black, l2_blue, v2_blue, l2_rec25, v2_rec25, v2_rec25d,
          l2_rec17, v2_rec17, l2_rec17, v2_rec17d, l2_dc, v2_d25, v2_d25d, v2_d17, v2_d17d)
add_panel("x3", "y5", "y6", False, l3_black, v3_black, l3_blue, v3_blue, l3_rec25, v3_rec25, v3_rec25d,
          l3_rec17, v3_rec17, l3_rec17, v3_rec17d, l3_dc, v3_d25, v3_d25d, v3_d17, v3_d17d)

# text-only legend entries
for rank, txt in [(7, 'Solid: "Extrapol"'), (8, 'Dash: "Extrapol+Unresol"')]:
    fig.add_trace(go.Scatter(x=[None], y=[None], mode="lines", line=dict(color="rgba(0,0,0,0)", width=1),
                             name=PAD + txt, legendgroup="t%d" % rank, legendrank=rank, showlegend=True,
                             xaxis="x", yaxis="y", hoverinfo="skip"))

TICKF = dict(family=FONT, size=18, color="black")
LOGF = dict(family=FONT, size=14.4, color="black")
YTITLE = "<i>ℓ</i>(<i>ℓ</i> + 1)<i>C</i><sub><i>ℓ</i></sub>/2<i>π</i> (mK<sup>2</sup>)"


def xaxis(dom, anchor, title=None):
    d = dict(domain=dom, anchor=anchor, range=[-19.15, 402.15], tickvals=x_ticks, ticks="outside", ticklen=6,
             tickwidth=1.2, tickcolor="black", showline=True, linecolor="black", linewidth=1.2, mirror=True,
             showgrid=False, zeroline=False, tickfont=TICKF, automargin=False, ticklabeloverflow="allow")
    if title:
        d["title"] = dict(text=title, font=dict(family=FONT, size=24), standoff=6)
    return d


def logaxis(dom, anchor, rng, title=None):
    d = dict(domain=dom, anchor=anchor, type="log", range=rng, dtick=1, exponentformat="power",
             showexponent="all", ticks="outside", ticklen=6, tickwidth=1.2, tickcolor="black",
             minor=dict(ticks="outside", ticklen=3.5, tickwidth=1, tickcolor="black", dtick="D1", showgrid=False),
             showline=True, linecolor="black", linewidth=1.2, mirror=True, showgrid=False, zeroline=False,
             tickfont=LOGF, ticklabelstandoff=4, automargin=False, ticklabeloverflow="allow")
    if title:
        d["title"] = dict(text=title, font=dict(family=FONT, size=26), standoff=9)
    return d


def rightaxis(over, anchor):
    return dict(overlaying=over, anchor=anchor, side="right", range=[-0.5, 1.0], tick0=0, dtick=0.2,
                tickformat=".1f", ticks="outside", ticklen=6, tickwidth=1.2, tickcolor="black", showline=True,
                linecolor="black", linewidth=1.2, showgrid=False, zeroline=False, tickfont=TICKF,
                ticklabelstandoff=3, automargin=False, ticklabeloverflow="allow")


xL = [105.7 / W, 624.6 / W]
xR = [765.7 / W, 1284.6 / W]
yT = [1 - 461 / H, 1 - 9 / H]
yB = [1 - 975 / H, 1 - 522 / H]

shapes = []
for xa, ya, yb in [("x", "y", "y2"), ("x2", "y3", "y4"), ("x3", "y5", "y6")]:
    for s in (shade_low, shade_high):
        shapes.append(dict(type="rect", xref=xa, yref=ya + " domain", x0=s[0], x1=s[1], y0=0, y1=1,
                           fillcolor="#d9d9d9", line=dict(width=0), layer="below"))
    shapes.append(dict(type="line", xref=xa + " domain", yref=yb, x0=0, x1=1, y0=0, y1=0,
                       line=dict(color="gray", width=2.5), layer="above"))

fig.update_layout(
    width=W, height=H, margin=dict(l=0, r=0, t=0, b=0, autoexpand=False),
    paper_bgcolor="white", plot_bgcolor="white",
    font=dict(family=FONT, color="black", size=18),
    xaxis=xaxis(xL, "y"),
    yaxis=logaxis(yT, "x", [-6.051, -1.462], YTITLE),
    yaxis2=rightaxis("y", "x"),
    xaxis2=xaxis(xL, "y3", "<i>ℓ</i>"),
    yaxis3=logaxis(yB, "x2", [-6.725, -1.747], YTITLE),
    yaxis4=rightaxis("y3", "x2"),
    xaxis3=xaxis(xR, "y5", "<i>ℓ</i>"),
    yaxis5=logaxis(yB, "x3", [-7.106, -1.789]),
    yaxis6=rightaxis("y5", "x3"),
    shapes=shapes,
    showlegend=True,
    legend=dict(x=740 / W, y=1 - 14 / H, xanchor="left", yanchor="top", bgcolor="white",
                bordercolor="#cccccc", borderwidth=1, font=dict(family=FONT, size=34.5, color="black"),
                traceorder="grouped", tracegroupgap=5.5, itemwidth=74),
)

fig.write_html("out.html", config={"displayModeBar": False},
               post_script="document.body.style.margin='0px';")
